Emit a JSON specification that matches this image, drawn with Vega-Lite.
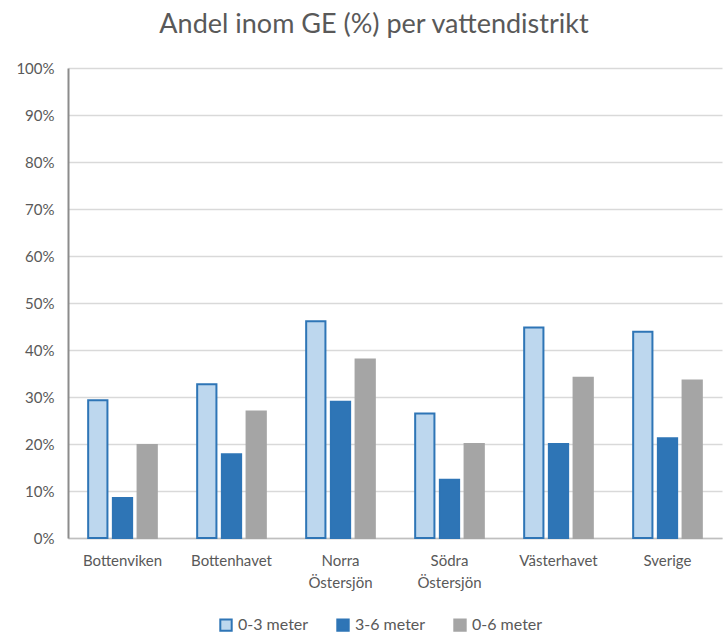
{
  "$schema": "https://vega.github.io/schema/vega-lite/v6.json",
  "autosize": {"type": "none"},
  "width": 654,
  "height": 470,
  "padding": {"left": 68, "top": 68, "right": 2, "bottom": 97},
  "background": "white",
  "title": {
    "text": "Andel inom GE (%) per vattendistrikt",
    "fontSize": 27,
    "font": "Lato",
    "fontWeight": "normal",
    "color": "#595959",
    "anchor": "middle",
    "dx": -21,
    "offset": 22
  },
  "data": {
    "values": [
      {"distrikt": "Bottenviken", "serie": "0-3 meter", "andel": 0.293},
      {"distrikt": "Bottenviken", "serie": "3-6 meter", "andel": 0.085},
      {"distrikt": "Bottenviken", "serie": "0-6 meter", "andel": 0.198},
      {"distrikt": "Bottenhavet", "serie": "0-3 meter", "andel": 0.327},
      {"distrikt": "Bottenhavet", "serie": "3-6 meter", "andel": 0.178},
      {"distrikt": "Bottenhavet", "serie": "0-6 meter", "andel": 0.269},
      {"distrikt": "Norra Östersjön", "serie": "0-3 meter", "andel": 0.461},
      {"distrikt": "Norra Östersjön", "serie": "3-6 meter", "andel": 0.29},
      {"distrikt": "Norra Östersjön", "serie": "0-6 meter", "andel": 0.38},
      {"distrikt": "Södra Östersjön", "serie": "0-3 meter", "andel": 0.265},
      {"distrikt": "Södra Östersjön", "serie": "3-6 meter", "andel": 0.124},
      {"distrikt": "Södra Östersjön", "serie": "0-6 meter", "andel": 0.2},
      {"distrikt": "Västerhavet", "serie": "0-3 meter", "andel": 0.448},
      {"distrikt": "Västerhavet", "serie": "3-6 meter", "andel": 0.2},
      {"distrikt": "Västerhavet", "serie": "0-6 meter", "andel": 0.341},
      {"distrikt": "Sverige", "serie": "0-3 meter", "andel": 0.439},
      {"distrikt": "Sverige", "serie": "3-6 meter", "andel": 0.212},
      {"distrikt": "Sverige", "serie": "0-6 meter", "andel": 0.335}
    ]
  },
  "mark": {"type": "bar", "strokeWidth": 2},
  "encoding": {
    "x": {
      "field": "distrikt",
      "type": "nominal",
      "sort": null,
      "scale": {"paddingInner": 0.37, "paddingOuter": 0.185},
      "axis": {
        "title": null,
        "labelAngle": 0,
        "labelExpr": "split(datum.label, ' ')",
        "labelFontSize": 15,
        "labelFont": "Lato",
        "labelColor": "#595959",
        "labelPadding": 15,
        "labelLineHeight": 22,
        "ticks": false,
        "domainColor": "#BFBFBF",
        "domainWidth": 1.5
      }
    },
    "xOffset": {
      "field": "serie",
      "type": "nominal",
      "sort": ["0-3 meter", "3-6 meter", "0-6 meter"],
      "scale": {"paddingInner": 0.22, "paddingOuter": 0}
    },
    "y": {
      "field": "andel",
      "type": "quantitative",
      "scale": {"domain": [0, 1], "nice": false},
      "axis": {
        "title": null,
        "format": ".0%",
        "values": [0, 0.1, 0.2, 0.3, 0.4, 0.5, 0.6, 0.7, 0.8, 0.9, 1],
        "labelOverlap": false,
        "labelFontSize": 15,
        "labelFont": "Lato",
        "labelColor": "#595959",
        "labelPadding": 14,
        "ticks": false,
        "domainColor": "#8C8C8C",
        "domainWidth": 2,
        "gridColor": "#D9D9D9",
        "gridWidth": 1.5
      }
    },
    "color": {
      "field": "serie",
      "type": "nominal",
      "sort": ["0-3 meter", "3-6 meter", "0-6 meter"],
      "scale": {
        "domain": ["0-3 meter", "3-6 meter", "0-6 meter"],
        "range": ["#BDD7EE", "#2E75B6", "#A5A5A5"]
      },
      "legend": {
        "title": null,
        "orient": "none",
        "legendX": 150,
        "legendY": 549,
        "direction": "horizontal",
        "symbolType": "square",
        "symbolSize": 130,
        "labelFontSize": 16,
        "labelFont": "Lato",
        "labelColor": "#595959",
        "labelOffset": 4,
        "columnPadding": 24
      }
    },
    "stroke": {
      "field": "serie",
      "type": "nominal",
      "sort": ["0-3 meter", "3-6 meter", "0-6 meter"],
      "scale": {
        "domain": ["0-3 meter", "3-6 meter", "0-6 meter"],
        "range": ["#2E75B6", "#2E75B6", "#A5A5A5"]
      },
      "legend": null
    }
  },
  "config": {
    "view": {"stroke": null},
    "legend": {"symbolStrokeWidth": 2}
  }
}
